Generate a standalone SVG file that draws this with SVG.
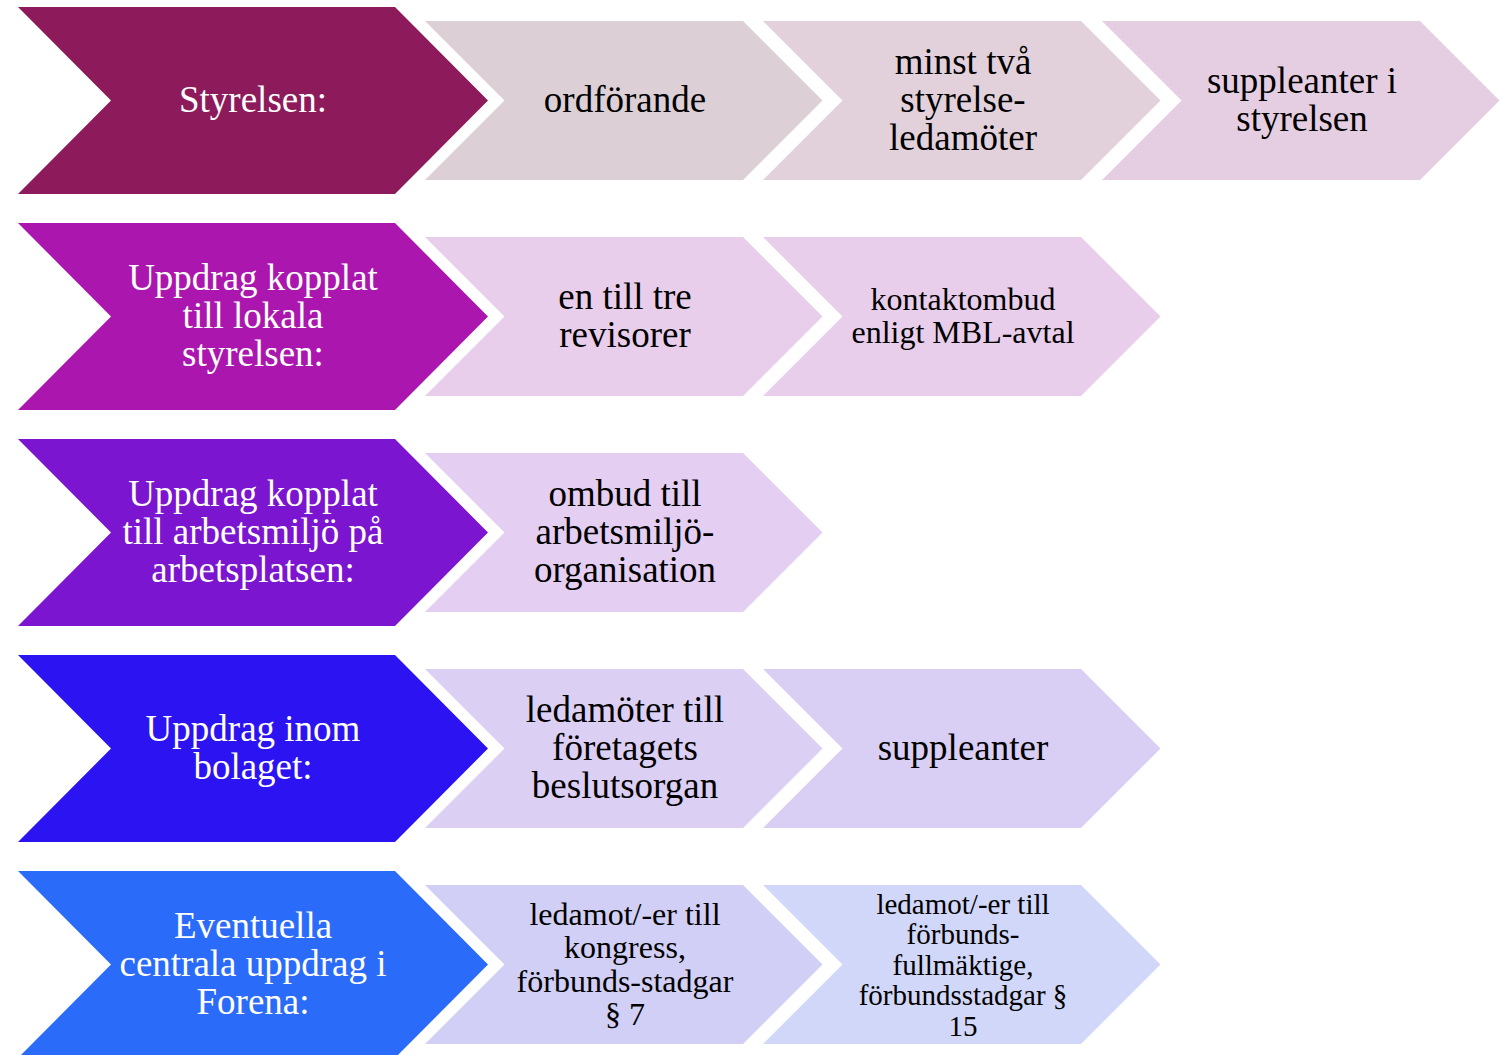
<svg xmlns="http://www.w3.org/2000/svg" width="1501" height="1055" viewBox="0 0 1501 1055">
<style>
text{font-family:"Liberation Serif","Times New Roman",serif;text-anchor:middle}
.w{fill:#ffffff;font-size:37px}
.k{fill:#000000;font-size:37px}
.k32{fill:#000000;font-size:32px}
.k29{fill:#000000;font-size:29px}
</style>
<defs>
<path id="big" d="M18,0 H395 L488,93.5 L395,187 H18 L111,93.5 Z"/>
<path id="small" d="M0,0 H318 L397.5,79.5 L318,159 H0 L79.5,79.5 Z"/>
</defs>

<g id="row1">
<g id="n1"><use href="#big" y="7" fill="#8D1A5B"/><text class="w" x="253" y="112">Styrelsen:</text></g>
<g id="n1a"><use href="#small" x="425" y="21" fill="#DCD0D6"/><text class="k" x="625" y="112">ordförande</text></g>
<g id="n1b"><use href="#small" x="763" y="21" fill="#E2D0DB"/><text class="k" x="963" y="74">minst två</text><text class="k" x="963" y="112">styrelse-</text><text class="k" x="963" y="150">ledamöter</text></g>
<g id="n1c"><use href="#small" x="1102" y="21" fill="#E5CEE1"/><text class="k" x="1302" y="93">suppleanter i</text><text class="k" x="1302" y="131">styrelsen</text></g>
</g>

<g id="row2">
<g id="n2"><use href="#big" y="223" fill="#AB17AE"/><text class="w" x="253" y="290">Uppdrag kopplat</text><text class="w" x="253" y="328">till lokala</text><text class="w" x="253" y="366">styrelsen:</text></g>
<g id="n2a"><use href="#small" x="425" y="237" fill="#E8CEEA"/><text class="k" x="625" y="309">en till tre</text><text class="k" x="625" y="347">revisorer</text></g>
<g id="n2b"><use href="#small" x="763" y="237" fill="#E8CEEB"/><text class="k32" x="963" y="310">kontaktombud</text><text class="k32" x="963" y="343">enligt MBL-avtal</text></g>
</g>

<g id="row3">
<g id="n3"><use href="#big" y="439" fill="#7B15CF"/><text class="w" x="253" y="506">Uppdrag kopplat</text><text class="w" x="253" y="544">till arbetsmiljö på</text><text class="w" x="253" y="582">arbetsplatsen:</text></g>
<g id="n3a"><use href="#small" x="425" y="453" fill="#E4CEF2"/><text class="k" x="625" y="506">ombud till</text><text class="k" x="625" y="544">arbetsmiljö-</text><text class="k" x="625" y="582">organisation</text></g>
</g>

<g id="row4">
<g id="n4"><use href="#big" y="655" fill="#2C14F2"/><text class="w" x="253" y="741">Uppdrag inom</text><text class="w" x="253" y="779">bolaget:</text></g>
<g id="n4a"><use href="#small" x="425" y="669" fill="#DBCFF4"/><text class="k" x="625" y="722">ledamöter till</text><text class="k" x="625" y="760">företagets</text><text class="k" x="625" y="798">beslutsorgan</text></g>
<g id="n4b"><use href="#small" x="763" y="669" fill="#D9CFF5"/><text class="k" x="963" y="760">suppleanter</text></g>
</g>

<g id="row5">
<g id="n5"><use href="#big" y="871" fill="#2A6BFA"/><text class="w" x="253" y="938">Eventuella</text><text class="w" x="253" y="976">centrala uppdrag i</text><text class="w" x="253" y="1014">Forena:</text></g>
<g id="n5a"><use href="#small" x="425" y="885" fill="#D1CFF6"/><text class="k32" x="625" y="925">ledamot/-er till</text><text class="k32" x="625" y="958">kongress,</text><text class="k32" x="625" y="992">förbunds-stadgar</text><text class="k32" x="625" y="1025">§ 7</text></g>
<g id="n5b"><use href="#small" x="763" y="885" fill="#D1D7F8"/><text class="k29" x="963" y="914">ledamot/-er till</text><text class="k29" x="963" y="944">förbunds-</text><text class="k29" x="963" y="975">fullmäktige,</text><text class="k29" x="963" y="1005">förbundsstadgar §</text><text class="k29" x="963" y="1036">15</text></g>
</g>

<g id="connectors"></g>
</svg>
